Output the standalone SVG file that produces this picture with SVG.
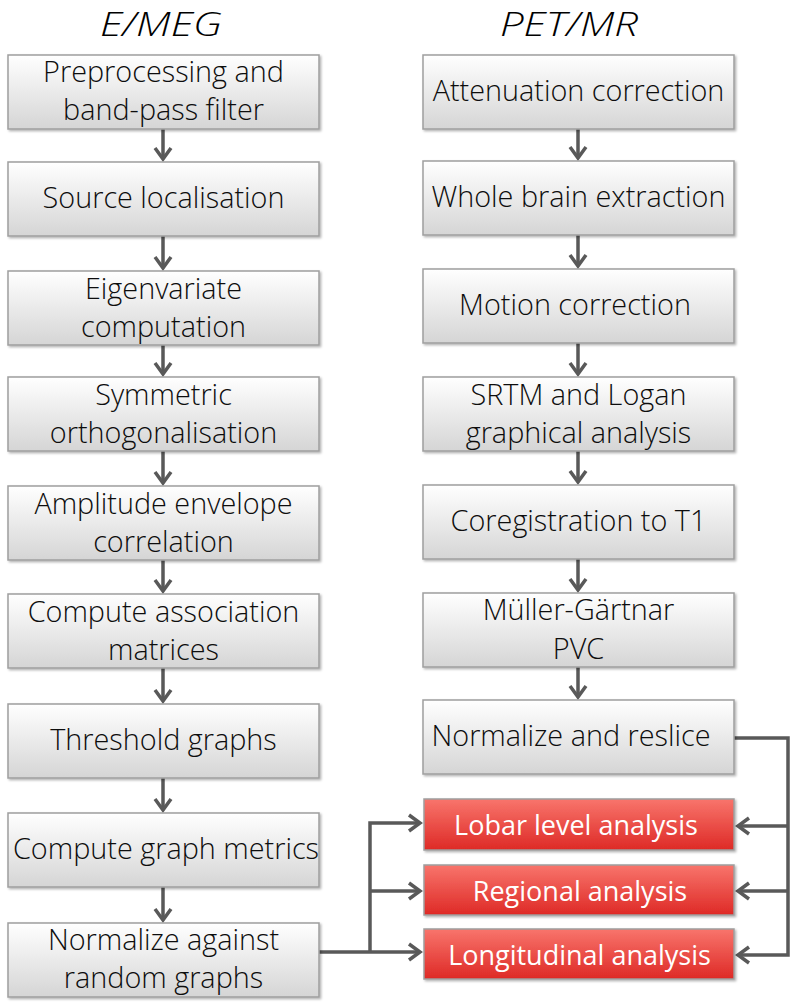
<svg xmlns="http://www.w3.org/2000/svg" width="792" height="1005" viewBox="0 0 792 1005">
  <defs>
    <linearGradient id="gGray" x1="0" y1="0" x2="0" y2="1">
      <stop offset="0" stop-color="#ffffff"/>
      <stop offset="1" stop-color="#d5d5d5"/>
    </linearGradient>
    <linearGradient id="gRed" x1="0" y1="0" x2="0" y2="1">
      <stop offset="0" stop-color="#f8756c"/>
      <stop offset="1" stop-color="#de2a26"/>
    </linearGradient>
    <filter id="shadow" x="-5%" y="-10%" width="110%" height="130%">
      <feDropShadow dx="1.5" dy="1.5" stdDeviation="1.2" flood-color="#000" flood-opacity="0.3"/>
    </filter>
    <marker id="arrow" markerUnits="userSpaceOnUse" markerWidth="30" markerHeight="30" viewBox="-15 -15 30 30" refX="0" refY="0" orient="auto">
      <path d="M-11,-8 L0,0 L-11,8" fill="none" stroke="#595959" stroke-width="3.5"/>
    </marker>
    <style>
      .box { fill: url(#gGray); stroke: #9e9e9e; stroke-width: 1.5; filter: url(#shadow); }
      .rbox { fill: url(#gRed); stroke: #9e9e9e; stroke-width: 1.5; filter: url(#shadow); }
      .t { font-family: "Open Sans", "Liberation Sans", sans-serif; font-size: 28.8px; font-weight: 300; fill: #0d0d0d; text-anchor: middle; }
      .w { font-family: "Open Sans", "Liberation Sans", sans-serif; font-size: 27px; fill: #ffffff; text-anchor: middle; }
      .title { font-family: "Open Sans", "Liberation Sans", sans-serif; font-size: 33px; font-weight: 300; font-style: italic; fill: #000000; text-anchor: middle; }
      .c { fill: none; stroke: #595959; stroke-width: 3.5; }
      .a { marker-end: url(#arrow); }
    </style>
  </defs>

  <text class="title" x="161" y="36" textLength="122" lengthAdjust="spacingAndGlyphs">E/MEG</text>
  <text class="title" x="569" y="36" textLength="138" lengthAdjust="spacingAndGlyphs">PET/MR</text>

  <g id="connectors">
    <path class="c a" d="M163,129 V159"/>
    <path class="c a" d="M163,236 V268"/>
    <path class="c a" d="M163,345 V374"/>
    <path class="c a" d="M163,451 V483"/>
    <path class="c a" d="M163,560 V591"/>
    <path class="c a" d="M163,668 V701"/>
    <path class="c a" d="M163,778 V810"/>
    <path class="c a" d="M163,887 V920"/>

    <path class="c a" d="M578,129 V158"/>
    <path class="c a" d="M578,235 V266"/>
    <path class="c a" d="M578,343 V374"/>
    <path class="c a" d="M578,451 V482"/>
    <path class="c a" d="M578,559 V590"/>
    <path class="c a" d="M578,667 V697"/>

    <path class="c a" d="M734,738 H788 V955 H738"/>
    <path class="c a" d="M788,826 H738"/>
    <path class="c a" d="M788,891 H738"/>

    <path class="c a" d="M319,952 H420"/>
    <path class="c a" d="M370,952 V823 H420"/>
    <path class="c a" d="M370,891 H420"/>
  </g>

  <g id="n-preprocessing">
    <rect class="box" x="8" y="55" width="311" height="74"/>
    <text class="t" x="163.5" y="82">Preprocessing and</text>
    <text class="t" x="163.5" y="120">band-pass filter</text>
  </g>
  <g id="n-source">
    <rect class="box" x="8" y="162" width="311" height="74"/>
    <text class="t" x="163.5" y="208">Source localisation</text>
  </g>
  <g id="n-eigenvariate">
    <rect class="box" x="8" y="271" width="311" height="74"/>
    <text class="t" x="163.5" y="299">Eigenvariate</text>
    <text class="t" x="163.5" y="337">computation</text>
  </g>
  <g id="n-symmetric">
    <rect class="box" x="8" y="377" width="311" height="74"/>
    <text class="t" x="163.5" y="405">Symmetric</text>
    <text class="t" x="163.5" y="443">orthogonalisation</text>
  </g>
  <g id="n-amplitude">
    <rect class="box" x="8" y="486" width="311" height="74"/>
    <text class="t" x="163.5" y="514">Amplitude envelope</text>
    <text class="t" x="163.5" y="552">correlation</text>
  </g>
  <g id="n-association">
    <rect class="box" x="8" y="594" width="311" height="74"/>
    <text class="t" x="163.5" y="622">Compute association</text>
    <text class="t" x="163.5" y="660">matrices</text>
  </g>
  <g id="n-threshold">
    <rect class="box" x="8" y="704" width="311" height="74"/>
    <text class="t" x="163.5" y="750">Threshold graphs</text>
  </g>
  <g id="n-metrics">
    <rect class="box" x="8" y="813" width="311" height="74"/>
    <text class="t" x="166" y="859">Compute graph metrics</text>
  </g>
  <g id="n-normalize-random">
    <rect class="box" x="8" y="923" width="311" height="74"/>
    <text class="t" x="163.5" y="950">Normalize against</text>
    <text class="t" x="163.5" y="988">random graphs</text>
  </g>

  <g id="n-attenuation">
    <rect class="box" x="423" y="55" width="311" height="74"/>
    <text class="t" x="578.5" y="101">Attenuation correction</text>
  </g>
  <g id="n-brain">
    <rect class="box" x="423" y="161" width="311" height="74"/>
    <text class="t" x="578.5" y="207">Whole brain extraction</text>
  </g>
  <g id="n-motion">
    <rect class="box" x="423" y="269" width="311" height="74"/>
    <text class="t" x="575" y="315">Motion correction</text>
  </g>
  <g id="n-srtm">
    <rect class="box" x="423" y="377" width="311" height="74"/>
    <text class="t" x="578.5" y="405">SRTM and Logan</text>
    <text class="t" x="578.5" y="443">graphical analysis</text>
  </g>
  <g id="n-coreg">
    <rect class="box" x="423" y="485" width="311" height="74"/>
    <text class="t" x="578.5" y="531">Coregistration to T1</text>
  </g>
  <g id="n-pvc">
    <rect class="box" x="423" y="593" width="311" height="74"/>
    <text class="t" x="578.5" y="620">Müller-Gärtnar</text>
    <text class="t" x="578.5" y="659">PVC</text>
  </g>
  <g id="n-reslice">
    <rect class="box" x="423" y="700" width="311" height="74"/>
    <text class="t" x="571" y="746">Normalize and reslice</text>
  </g>

  <g id="n-lobar">
    <rect class="rbox" x="424" y="799" width="310" height="51"/>
    <text class="w" x="576" y="835">Lobar level analysis</text>
  </g>
  <g id="n-regional">
    <rect class="rbox" x="424" y="865" width="310" height="50"/>
    <text class="w" x="580" y="900.5">Regional analysis</text>
  </g>
  <g id="n-longitudinal">
    <rect class="rbox" x="424" y="929" width="310" height="50"/>
    <text class="w" x="579.5" y="964.5">Longitudinal analysis</text>
  </g>
</svg>
